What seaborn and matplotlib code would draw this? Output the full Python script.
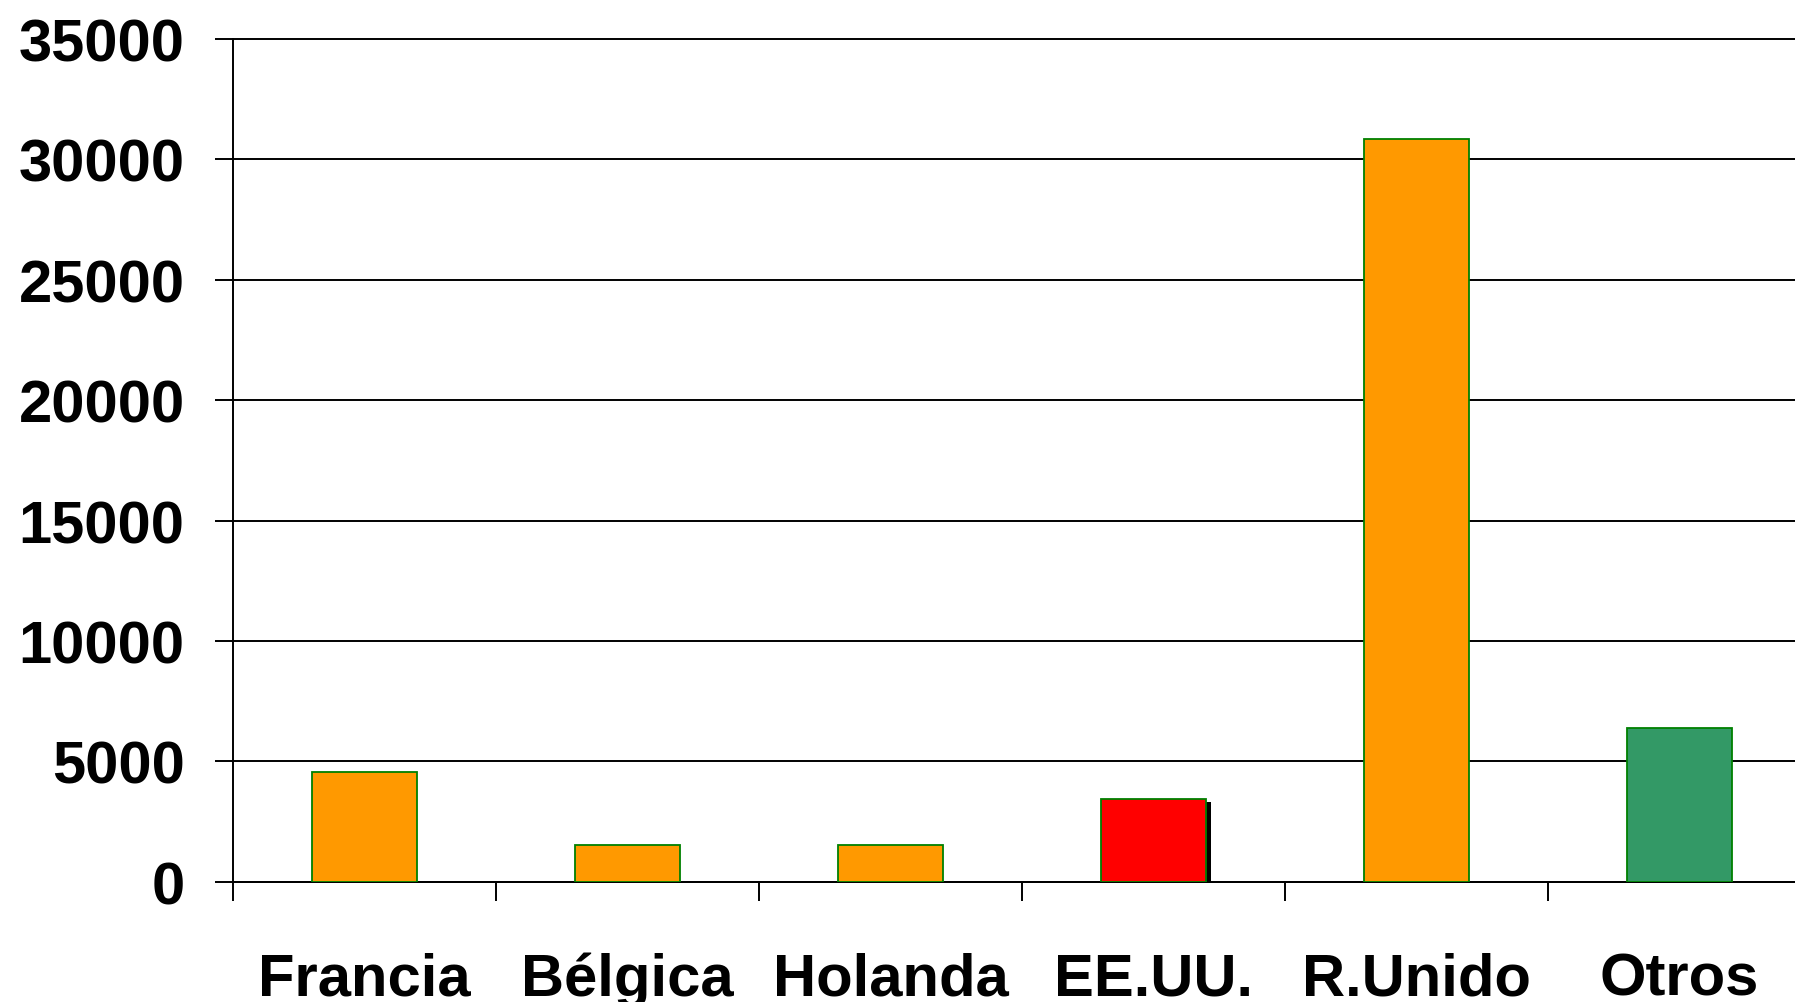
import numpy as np
import matplotlib
matplotlib.use("Agg")
import matplotlib.pyplot as plt
import matplotlib.patheffects as pe
import seaborn as sns

paises = ["Francia", "Bélgica", "Holanda", "EE.UU.", "R.Unido", "Otros"]
valores = [4570, 1530, 1530, 3450, 30850, 6400]
colores = ["#FF9900", "#FF9900", "#FF9900", "#FF0000", "#FF9900", "#339966"]
yticks = [0, 5000, 10000, 15000, 20000, 25000, 30000, 35000]

sns.set_theme(style="white")
plt.rcParams['font.family'] = ['Liberation Sans', 'DejaVu Sans']
plt.rcParams['text.color'] = 'black'
plt.rcParams['xtick.color'] = 'black'
plt.rcParams['ytick.color'] = 'black'

fig = plt.figure(figsize=(17.95, 10.03), dpi=100)
ax = fig.add_axes([0.130, 0.12, 0.870, 0.84])

sns.barplot(x=paises, y=valores, hue=paises, palette=colores, width=0.4,
            saturation=1, edgecolor="#008000", linewidth=1.3, legend=False,
            ax=ax, zorder=5)

# black drop shadow on the EE.UU. bar
ax.patches[3].set_path_effects([
    pe.SimplePatchShadow(offset=(3.5, -2.5), shadow_rgbFace="black", alpha=1.0),
    pe.Normal()])

ax.set_ylim(0, 35000)
ax.set_xlim(-0.5, 5.44)
ax.set_yticks(yticks)
ax.set_yticklabels([str(v) for v in yticks], fontsize=43, fontweight="bold",
                   color="black")
ax.yaxis.grid(True, color="black", linewidth=1.4)
for gl in ax.get_ygridlines():
    gl.set_clip_on(False)
ax.set_axisbelow(True)

# category labels at centers, tick marks at boundaries
ax.set_xticks(range(len(paises)))
ax.set_xticklabels(paises, fontsize=43, fontweight="bold", color="black")
ax.set_xticks(np.arange(-0.5, 5.5, 1), minor=True)
ax.tick_params(axis="x", which="major", length=0, pad=50)
ax.tick_params(axis="x", which="minor", length=14, width=1.4, color="black",
               direction="out", bottom=True)
ax.tick_params(axis="y", length=13, width=1.4, color="black", direction="out",
               left=True, pad=22)

for s in ["top", "right"]:
    ax.spines[s].set_visible(False)
for s in ["left", "bottom"]:
    ax.spines[s].set_color("black")
    ax.spines[s].set_linewidth(1.4)
    ax.spines[s].set_zorder(4)

ax.set_xlabel("")
ax.set_ylabel("")

fig.savefig("out.png", dpi=100)
